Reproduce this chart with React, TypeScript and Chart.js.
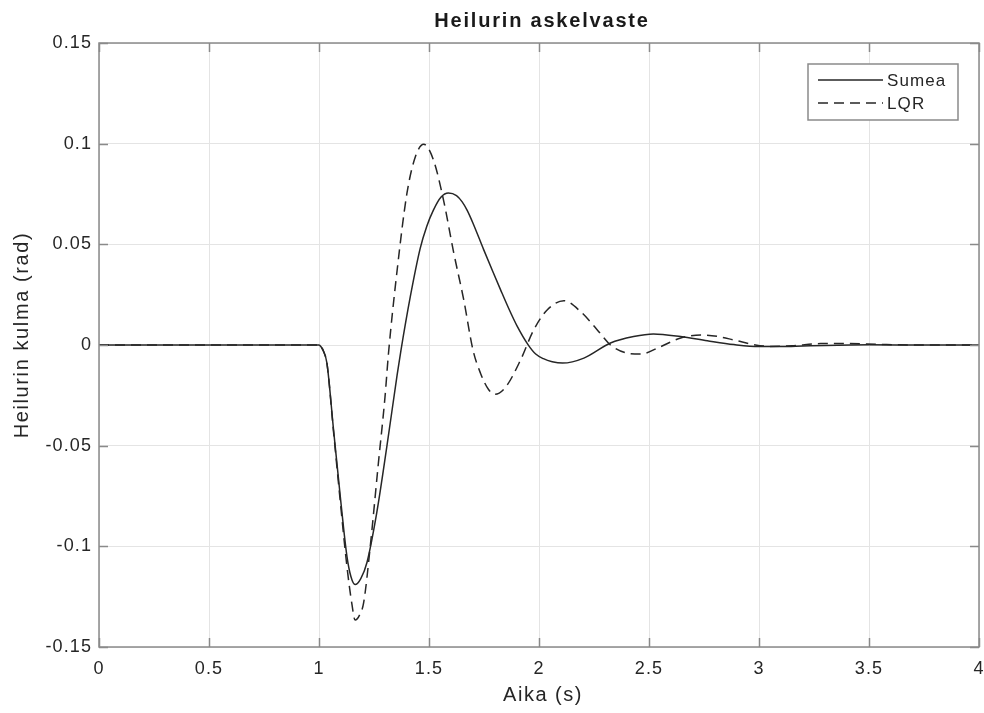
import React, { useEffect, useRef } from "react";
import { Chart, registerables } from "chart.js";

Chart.register(...registerables);

const chartTitle = "Heilurin askelvaste";
const xAxisTitle = "Aika (s)";
const yAxisTitle = "Heilurin kulma (rad)";

const xTickValues = [0, 0.5, 1, 1.5, 2, 2.5, 3, 3.5, 4];
const xTickLabels = ["0", "0.5", "1", "1.5", "2", "2.5", "3", "3.5", "4"];
const yTickValues = [-0.15, -0.1, -0.05, 0, 0.05, 0.1, 0.15];
const yTickLabels = ["-0.15", "-0.1", "-0.05", "0", "0.05", "0.1", "0.15"];

const seriesNames = ["Sumea", "LQR"];

const sumeaT = [0, 0.5, 1.0, 1.01, 1.02, 1.036, 1.066, 1.097, 1.127, 1.145, 1.164, 1.19, 1.218, 1.263, 1.309, 1.355, 1.372, 1.415, 1.46, 1.49, 1.52, 1.555, 1.588, 1.625, 1.65, 1.673, 1.7, 1.748, 1.79, 1.825, 1.865, 1.9, 1.95, 1.985, 2.02, 2.06, 2.107, 2.204, 2.325, 2.43, 2.52, 2.644, 2.765, 2.886, 3.0, 3.1, 3.2, 3.3, 3.5, 3.75, 4.0];
const sumeaY = [0, 0, 0, -0.001, -0.003, -0.009, -0.042, -0.0755, -0.105, -0.115, -0.119, -0.116, -0.108, -0.083, -0.05, -0.015, -0.003, 0.024, 0.048, 0.059, 0.067, 0.0735, 0.0755, 0.0742, 0.0712, 0.067, 0.0605, 0.0475, 0.0365, 0.0275, 0.0175, 0.0095, 0.0002, -0.0045, -0.0068, -0.0083, -0.009, -0.0065, 0.001, 0.0042, 0.0055, 0.0042, 0.0021, 0.0002, -0.0008, -0.0008, -0.0005, -0.0002, 0.0001, 0, 0];

const lqrT = [0, 0.5, 1.0, 1.01, 1.02, 1.036, 1.066, 1.097, 1.127, 1.15, 1.164, 1.185, 1.203, 1.233, 1.27, 1.3, 1.316, 1.355, 1.4, 1.438, 1.476, 1.52, 1.566, 1.612, 1.658, 1.7, 1.734, 1.77, 1.8, 1.848, 1.916, 1.976, 2.037, 2.113, 2.19, 2.265, 2.325, 2.4, 2.462, 2.553, 2.644, 2.735, 2.81, 2.886, 2.976, 3.05, 3.15, 3.28, 3.4, 3.55, 3.7, 3.85, 4.0];
const lqrY = [0, 0, 0, -0.001, -0.003, -0.009, -0.043, -0.078, -0.11, -0.129, -0.1366, -0.134, -0.128, -0.1, -0.0586, -0.0258, -0.004, 0.037, 0.0755, 0.0935, 0.0997, 0.092, 0.072, 0.046, 0.0224, -0.0025, -0.014, -0.022, -0.0245, -0.021, -0.0075, 0.0075, 0.0174, 0.022, 0.0165, 0.0075, 0, -0.004, -0.0045, -0.0008, 0.0035, 0.005, 0.0043, 0.0025, 0.0002, -0.0007, -0.0004, 0.0007, 0.0008, 0.0003, 0, 0, 0];

const FONT = "'Liberation Sans', Arial, Helvetica, sans-serif";
const LINE_COLOR = "#262626";
const AXIS_COLOR = "#8a8a8a";
const TEXT_COLOR = "#262626";

const framePlugin = {
  id: "matlabFrame",
  beforeUpdate(chart: any) {
    chart.ctx.letterSpacing = "1.1px";
  },
  beforeLayout(chart: any) {
    chart.ctx.letterSpacing = "1.1px";
  },
  beforeDraw(chart: any) {
    chart.ctx.letterSpacing = "1.1px";
  },
  afterDraw(chart: any) {
    const { ctx, chartArea: a, scales } = chart;
    ctx.save();
    // frame and inward ticks
    ctx.strokeStyle = AXIS_COLOR;
    ctx.lineWidth = 1.5;
    const tl = 9;
    ctx.beginPath();
    xTickValues.forEach((v) => {
      const px = Math.round(scales.x.getPixelForValue(v)) + 0.5;
      ctx.moveTo(px, a.bottom);
      ctx.lineTo(px, a.bottom - tl);
      ctx.moveTo(px, a.top);
      ctx.lineTo(px, a.top + tl);
    });
    yTickValues.forEach((v) => {
      const py = Math.round(scales.y.getPixelForValue(v)) + 0.5;
      ctx.moveTo(a.left, py);
      ctx.lineTo(a.left + tl, py);
      ctx.moveTo(a.right, py);
      ctx.lineTo(a.right - tl, py);
    });
    ctx.stroke();
    ctx.strokeRect(a.left, a.top, a.right - a.left, a.bottom - a.top);

    // title
    ctx.letterSpacing = "1.8px";
    ctx.font = `bold 20px ${FONT}`;
    ctx.fillStyle = "#1a1a1a";
    ctx.textAlign = "center";
    ctx.textBaseline = "middle";
    ctx.fillText(chartTitle, (a.left + a.right) / 2 + 3, 21);

    // axis titles
    ctx.font = `20px ${FONT}`;
    ctx.fillStyle = TEXT_COLOR;
    ctx.letterSpacing = "1.5px";
    ctx.fillText(xAxisTitle, (a.left + a.right) / 2 + 4, 695);
    ctx.save();
    ctx.translate(22, (a.top + a.bottom) / 2 - 10);
    ctx.rotate(-Math.PI / 2);
    ctx.letterSpacing = "1.6px";
    ctx.fillText(yAxisTitle, 0, 0);
    ctx.restore();

    // legend
    const bx = a.right - 171;
    const by = a.top + 21;
    const bw = 150;
    const bh = 56;
    ctx.fillStyle = "#ffffff";
    ctx.fillRect(bx, by, bw, bh);
    ctx.strokeStyle = AXIS_COLOR;
    ctx.lineWidth = 1.5;
    ctx.strokeRect(bx, by, bw, bh);
    ctx.letterSpacing = "1.1px";
    ctx.font = `17px ${FONT}`;
    ctx.textAlign = "left";
    ctx.textBaseline = "middle";
    const rows = [by + 16, by + 39];
    chart.data.datasets.forEach((ds: any, i: number) => {
      ctx.beginPath();
      ctx.strokeStyle = ds.borderColor;
      ctx.lineWidth = 1.5;
      ctx.setLineDash(ds.borderDash || []);
      ctx.moveTo(bx + 10, rows[i]);
      ctx.lineTo(bx + 75, rows[i]);
      ctx.stroke();
      ctx.setLineDash([]);
      ctx.fillStyle = TEXT_COLOR;
      ctx.fillText(ds.label, bx + 79, rows[i] + 1);
    });
    ctx.restore();
  },
};

export default function App() {
  const canvasRef = useRef<HTMLCanvasElement | null>(null);

  useEffect(() => {
    const canvas = canvasRef.current;
    if (!canvas) return;
    const sumeaData = sumeaT.map((t, i) => ({ x: t, y: sumeaY[i] }));
    const lqrData = lqrT.map((t, i) => ({ x: t, y: lqrY[i] }));

    const chart = new Chart(canvas, {
      type: "line",
      data: {
        datasets: [
          {
            label: seriesNames[0],
            data: sumeaData,
            borderColor: LINE_COLOR,
            borderWidth: 1.5,
            pointRadius: 0,
            cubicInterpolationMode: "monotone",
            fill: false,
          },
          {
            label: seriesNames[1],
            data: lqrData,
            borderColor: LINE_COLOR,
            borderWidth: 1.5,
            borderDash: [10, 6],
            pointRadius: 0,
            cubicInterpolationMode: "monotone",
            fill: false,
          },
        ],
      },
      options: {
        animation: false,
        responsive: false,
        layout: { padding: { top: 43, right: 5, left: 0, bottom: 0 } },
        plugins: {
          legend: { display: false },
          title: { display: false },
          tooltip: { enabled: false },
        },
        scales: {
          x: {
            type: "linear",
            min: 0,
            max: 4,
            afterBuildTicks: (scale: any) => {
              scale.ticks = xTickValues.map((v) => ({ value: v }));
            },
            afterFit: (scale: any) => {
              scale.height = 66;
              scale.paddingLeft = 0;
              scale.paddingRight = 0;
            },
            ticks: {
              autoSkip: false,
              maxRotation: 0,
              padding: 11,
              color: TEXT_COLOR,
              font: { family: FONT, size: 18 },
              callback: (_v: any, i: number) => xTickLabels[i],
            },
            grid: { color: "#e4e4e4", lineWidth: 1, drawTicks: false },
            border: { display: false },
            title: { display: false },
          },
          y: {
            type: "linear",
            min: -0.15,
            max: 0.15,
            afterBuildTicks: (scale: any) => {
              scale.ticks = yTickValues.map((v) => ({ value: v }));
            },
            afterFit: (scale: any) => {
              scale.width = 99;
              scale.paddingTop = 0;
              scale.paddingBottom = 0;
            },
            ticks: {
              autoSkip: false,
              padding: 7,
              color: TEXT_COLOR,
              font: { family: FONT, size: 18 },
              callback: (_v: any, i: number) => yTickLabels[i],
            },
            grid: { color: "#e4e4e4", lineWidth: 1, drawTicks: false },
            border: { display: false },
            title: { display: false },
          },
        },
      },
      plugins: [framePlugin],
    } as any);

    return () => chart.destroy();
  }, []);

  return (
    <div style={{ position: "fixed", left: 0, top: 0, width: 984, height: 713, background: "#fff" }}>
      <canvas ref={canvasRef} width={984} height={713} style={{ display: "block" }} />
    </div>
  );
}
